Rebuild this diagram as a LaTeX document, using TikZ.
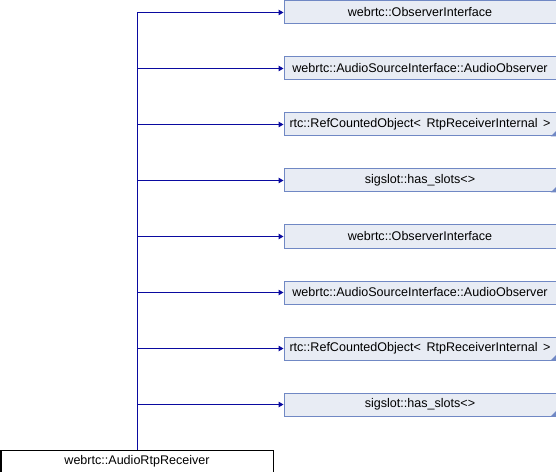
\documentclass[tikz,border=0pt]{standalone}
\usepackage{fontspec}
\setmainfont{Liberation Sans}
\usetikzlibrary{arrows.meta}
\definecolor{boxfill}{HTML}{E8ECF4}
\definecolor{boxdraw}{HTML}{7088C4}
\definecolor{edgecol}{HTML}{0A0AA0}
\tikzset{
  base/.style={draw=boxdraw, fill=boxfill, line width=1bp, minimum width=272bp, minimum height=23bp, inner sep=0pt, anchor=north west, font=\fontsize{12.6}{14}\selectfont},
  mainbox/.style={base, draw=black, fill=white},
  trunc/.style={fill=boxdraw, draw=none},
  inh/.style={draw=edgecol, line width=1bp, -{Triangle[length=5bp,width=5.5bp]}}
}
\begin{document}
\begin{tikzpicture}[x=1bp,y=-1bp]
\useasboundingbox (0,0) rectangle (556,472);
\node[base] (b1) at (283.5,0.5) {webrtc::ObserverInterface};
\node[base] (b2) at (283.5,56.5) {webrtc::AudioSourceInterface::AudioObserver};
\node[base] (b3) at (283.5,112.5) {rtc::RefCountedObject<\,\ RtpReceiverInternal\ \,>};
\node[base] (b4) at (283.5,168.5) {sigslot::has\_slots<>};
\node[base] (b5) at (283.5,224.5) {webrtc::ObserverInterface};
\node[base] (b6) at (283.5,280.5) {webrtc::AudioSourceInterface::AudioObserver};
\node[base] (b7) at (283.5,336.5) {rtc::RefCountedObject<\,\ RtpReceiverInternal\ \,>};
\node[base] (b8) at (283.5,392.5) {sigslot::has\_slots<>};
\node[mainbox] (recv) at (0.5,449.5) {webrtc::AudioRtpReceiver};
\foreach \b in {b3,b4,b7,b8}{
  \fill[trunc] (\b.south east) -- ++(-6,0) -- ++(6,-6) -- cycle;
}
\foreach \b in {b1,b2,b3,b4,b5,b6,b7,b8}{
  \draw[inh] (recv.north) |- (\b.west);
}
\end{tikzpicture}
\end{document}
